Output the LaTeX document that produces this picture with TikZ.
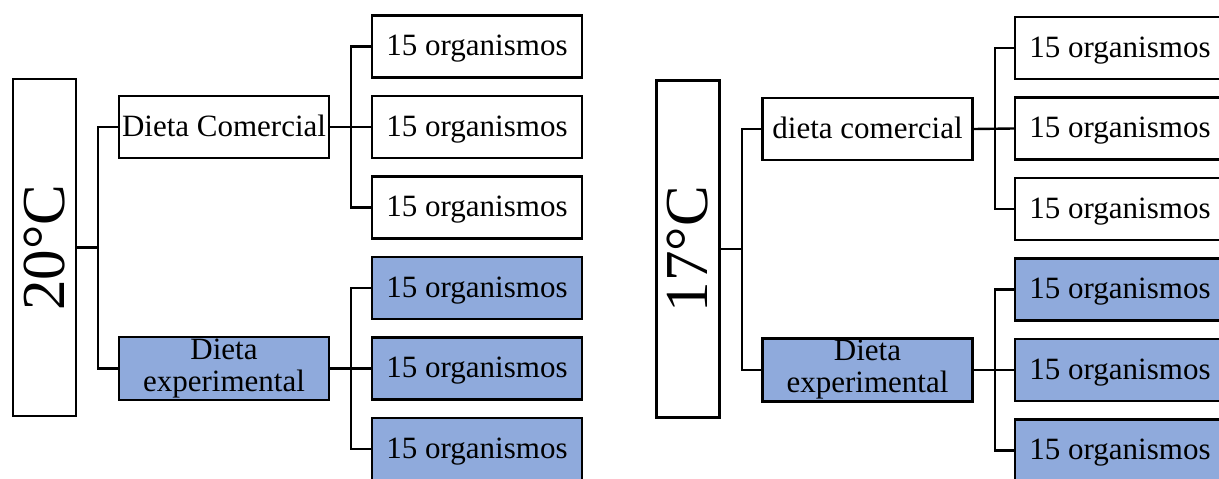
\documentclass[tikz,border=0pt]{standalone}
\usepackage{fontspec}
\setmainfont{Liberation Serif}
\usepackage{graphicx}
\usetikzlibrary{positioning}
\usetikzlibrary{calc}
\definecolor{dietblue}{HTML}{8FAADC}
\tikzset{
  % The tall box holding the temperature, text turned bottom-up
  tempbox/.style={
    draw=black, fill=white, line width=2.4pt, inner sep=0pt,
    minimum width=63pt, minimum height=337pt,
    font=\fontsize{61}{61}\selectfont},
  % A diet box in the middle column
  dietbox/.style={
    draw=black, fill=white, line width=2.4pt, inner sep=2pt, align=center,
    minimum width=210pt, minimum height=62pt,
    font=\fontsize{31}{32}\selectfont},
  oneline/.style={text height=23pt, text depth=5pt},
  expbox/.style={dietbox, fill=dietblue},
  % A group of organisms
  leafbox/.style={dietbox, oneline, fill=#1},
  % Tree lines
  link/.style={draw=black, line width=2.4pt},
}
% three leaves hung from one diet box
\newcommand{\leafgroup}[5]{%
  \node[leafbox=#4] (#3a) at (#1,#2) {15 organismos};
  \node[leafbox=#4] (#3b) at (#1,#2-80.5) {15 organismos};
  \node[leafbox=#4] (#3c) at (#1,#2-161) {15 organismos};
  \coordinate (#3k) at ($(#5.east)+(21,0)$);
  \draw[link] (#5.east) -- (#3b.west);
  \draw[link] (#3a.west) -| (#3k) |- (#3c.west);}

\begin{document}
\begin{tikzpicture}[x=1pt, y=1pt]
  \useasboundingbox (0,0) rectangle (1219,-479);

  % 20 C
  \node[tempbox] (t20) at (44.5,-247.5) {\rotatebox{90}{20°C}};
  \node[dietbox, oneline] (dc20) at (224,-127) {Dieta Comercial};
  \node[expbox] (de20) at (224,-368.5) {Dieta\\experimental};
  \coordinate (j20) at ($(t20.east)+(21,0)$);
  \draw[link] (t20.east) -- (j20);
  \draw[link] (dc20.west) -| (j20) |- (de20.west);

  \leafgroup{477}{-46.5}{lc20}{white}{dc20}
  \leafgroup{477}{-288}{le20}{dietblue}{de20}

  % 17 C
  \node[tempbox] (t17) at (688,-249) {\rotatebox{90}{17°C}};
  \node[dietbox, oneline] (dc17) at (867.5,-129) {dieta comercial};
  \node[expbox] (de17) at (867.5,-370) {Dieta\\experimental};
  \coordinate (j17) at ($(t17.east)+(21,0)$);
  \draw[link] (t17.east) -- (j17);
  \draw[link] (dc17.west) -| (j17) |- (de17.west);

  \leafgroup{1120}{-48}{lc17}{white}{dc17}
  \leafgroup{1120}{-289.5}{le17}{dietblue}{de17}

\end{tikzpicture}
\end{document}
